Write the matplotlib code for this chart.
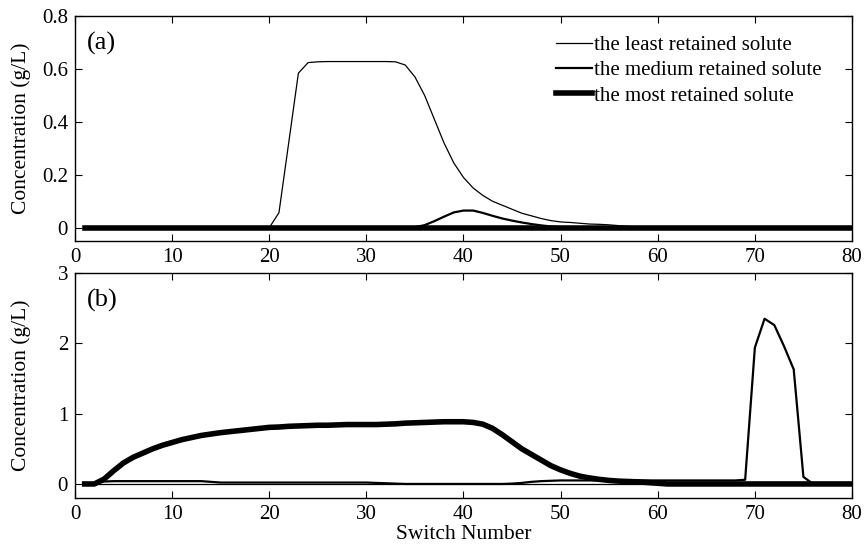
import numpy as np
import matplotlib
matplotlib.use('Agg')
import matplotlib.pyplot as plt

plt.rcParams['font.family'] = ['Liberation Serif', 'DejaVu Serif']
plt.rcParams['mathtext.fontset'] = 'stix'

# switch numbers
switch = np.arange(1, 81)

# (a) concentrations
a_least = [0]*20 + [0.057, 0.32, 0.584, 0.624, 0.627, 0.628, 0.628, 0.628, 0.628, 0.628,
                    0.628, 0.628, 0.627, 0.615, 0.57, 0.50, 0.41, 0.32, 0.245, 0.19,
                    0.15, 0.122, 0.10, 0.085, 0.07, 0.055, 0.045, 0.035, 0.027, 0.022,
                    0.02, 0.017, 0.014, 0.013, 0.011, 0.008, 0.005, 0.003, 0.001] + [0]*21
a_medium = [0]*34 + [0.002, 0.01, 0.025, 0.042, 0.058, 0.065, 0.065, 0.056, 0.045, 0.035,
                     0.027, 0.02, 0.014, 0.009, 0.005, 0.002] + [0]*30
a_most = [0]*80

# (b) concentrations
b_least = [0]*80
b_medium = ([0, 0.01, 0.035, 0.04, 0.04, 0.04, 0.04, 0.04, 0.04, 0.04,
             0.04, 0.04, 0.04, 0.03, 0.02, 0.02, 0.02, 0.02, 0.02, 0.02,
             0.02, 0.02, 0.02, 0.02, 0.02, 0.02, 0.02, 0.02, 0.02, 0.02,
             0.015, 0.01, 0.005, 0, 0, 0, 0, 0, 0, 0,
             0, 0, 0, 0, 0.005, 0.015, 0.03, 0.04, 0.045, 0.05,
             0.05, 0.05, 0.05, 0.05, 0.05, 0.05, 0.05, 0.05, 0.05, 0.05,
             0.05, 0.05, 0.05, 0.05, 0.05, 0.05, 0.05, 0.05, 0.06, 1.94,
             2.35, 2.26, 1.96, 1.63, 0.1, 0, 0, 0, 0, 0])
b_most = ([0, 0, 0.07, 0.19, 0.30, 0.38, 0.44, 0.50, 0.55, 0.59,
           0.63, 0.66, 0.69, 0.71, 0.73, 0.745, 0.76, 0.775, 0.79, 0.805,
           0.81, 0.82, 0.825, 0.83, 0.835, 0.835, 0.84, 0.845, 0.845, 0.845,
           0.845, 0.85, 0.855, 0.865, 0.87, 0.875, 0.88, 0.885, 0.885, 0.885,
           0.875, 0.85, 0.79, 0.70, 0.60, 0.50, 0.42, 0.34, 0.26, 0.20,
           0.15, 0.11, 0.085, 0.065, 0.05, 0.04, 0.035, 0.03, 0.02, 0.01] + [0]*20)

labels = ['the least retained solute', 'the medium retained solute', 'the most retained solute']
widths = [0.9, 1.6, 4.0]

fig = plt.figure(figsize=(8.64, 5.45), dpi=100)
ax1 = fig.add_axes([0.0868, 0.5578, 0.8993, 0.4128])
ax2 = fig.add_axes([0.0868, 0.0862, 0.8993, 0.4128])

for ax, series in [(ax1, [a_least, a_medium, a_most]), (ax2, [b_least, b_medium, b_most])]:
    for s, lab, lw in zip(series, labels, widths):
        ax.plot(switch, s, color='black', lw=lw, label=lab, solid_joinstyle='round')
    ax.set_xlim(0, 80)
    ax.set_xticks(range(0, 81, 10))
    ax.tick_params(direction='in', top=True, right=True, length=5, labelsize=15, width=0.8, pad=5)
    ax.set_ylabel('Concentration (g/L)', fontsize=15.5)
    for sp in ax.spines.values():
        sp.set_linewidth(1.0)

ax1.set_ylim(-0.05, 0.8)
ax1.set_yticks([0, 0.2, 0.4, 0.6, 0.8])
ax1.set_yticklabels(['0', '0.2', '0.4', '0.6', '0.8'])
ax2.set_ylim(-0.2, 3)
ax2.set_yticks([0, 1, 2, 3])
ax2.set_xlabel('Switch Number', fontsize=15.5, labelpad=0.5)

ax1.yaxis.set_label_coords(-0.057, 0.5)
ax2.yaxis.set_label_coords(-0.057, 0.5)

ax1.text(0.015, 0.85, '(a)', transform=ax1.transAxes, fontsize=19)
ax2.text(0.015, 0.85, '(b)', transform=ax2.transAxes, fontsize=19)

ax1.legend(loc='upper left', bbox_to_anchor=(0.619, 0.913), frameon=False, fontsize=15,
           handlelength=1.75, handletextpad=0.08, labelspacing=0.27,
           borderpad=0, borderaxespad=0)

fig.savefig('out.png', dpi=100)
